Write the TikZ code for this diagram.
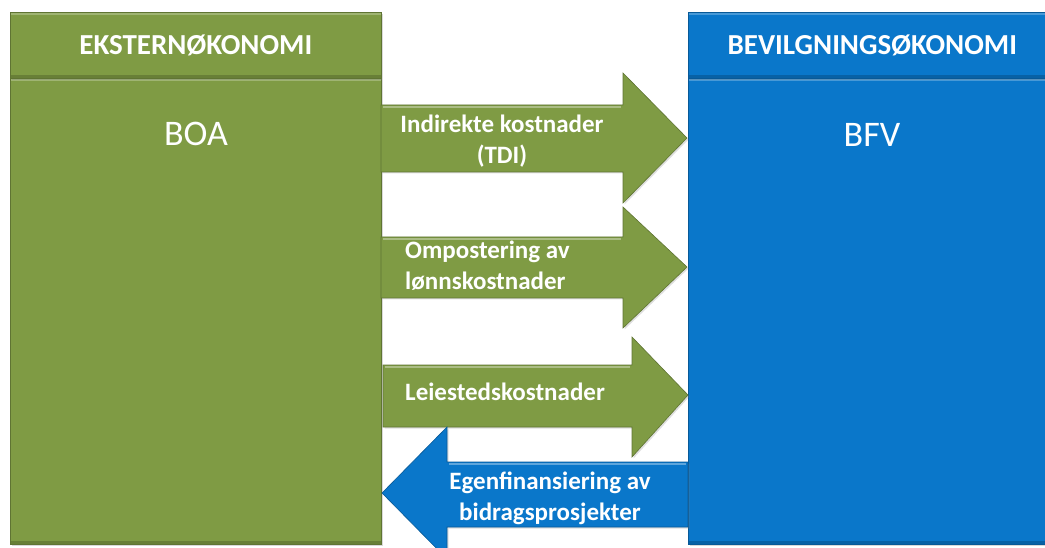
\documentclass[tikz,border=0pt]{standalone}
\usepackage{fontspec}
\setmainfont{Carlito}
\usetikzlibrary{shadows}
\definecolor{boagreen}{HTML}{7F9B44}
\definecolor{bfvblue}{HTML}{0A77CA}
\begin{document}
\begin{tikzpicture}[x=1pt,y=-1pt,
  panel/.style={fill=#1, draw=#1!75!black, line width=0.6pt, inner sep=0pt,
    anchor=north west, text=white,
    drop shadow={opacity=0.3, shadow xshift=1.5pt, shadow yshift=-1.5pt},
    path picture={
      \fill[white, opacity=0.25] (path picture bounding box.north west)
        rectangle ([yshift=-3pt]path picture bounding box.north east);
      \fill[black, opacity=0.18] (path picture bounding box.south west)
        rectangle ([yshift=3pt]path picture bounding box.south east);
    }},
  headtext/.style={font=\bfseries\fontsize{29}{32}\selectfont},
  bodytext/.style={font=\fontsize{36}{40}\selectfont, text=white},
  flow/.style={fill=#1, draw=#1!75!black, line width=0.6pt,
    drop shadow={opacity=0.25, shadow xshift=1.5pt, shadow yshift=-1.5pt}},
  shine/.style={draw=white, opacity=0.35, line width=2pt},
  flowtext/.style={text=white, align=center, inner sep=0pt,
    font=\bfseries\fontsize{25}{31}\selectfont}
]
\useasboundingbox (0,0) rectangle (1045,548);
\clip (0,0) rectangle (1045,548);

% left column: external economy
\node[panel=boagreen, minimum width=371pt, minimum height=466pt] (boa) at (10,78) {};
\node[panel=boagreen, minimum width=371pt, minimum height=66pt, headtext] (exthead) at (10,12) {EKSTERNØKONOMI};
\node[bodytext] (boalabel) at (196,134) {BOA};

% right column: appropriation economy
\node[panel=bfvblue, minimum width=368pt, minimum height=466pt] (bfv) at (688,78) {};
\node[panel=bfvblue, minimum width=368pt, minimum height=66pt, headtext] (bevhead) at (688,12) {BEVILGNINGSØKONOMI};
\node[bodytext] (bfvlabel) at (872,135) {BFV};

% flows from BOA to BFV
\path[flow=boagreen] (381,105) -- (623,105) -- (623,73) -- (687,138) -- (623,203) -- (623,172) -- (381,172) -- cycle;
\draw[shine] (383,107) -- (621,107);
\node[flowtext] (tdi) at (502,141) {Indirekte kostnader\\(TDI)};

\path[flow=boagreen] (381,237) -- (623,237) -- (623,207) -- (687,267) -- (623,328) -- (623,298) -- (381,298) -- cycle;
\draw[shine] (383,239) -- (621,239);
\node[flowtext, align=left, anchor=west] (lonn) at (405,266) {Ompostering av\\lønnskostnader};

\path[flow=boagreen] (383,365) -- (632,365) -- (632,337) -- (688,395) -- (632,457) -- (632,427) -- (383,427) -- cycle;
\draw[shine] (385,367) -- (630,367);
\node[flowtext] (leie) at (505,392) {Leiestedskostnader};

% flow from BFV back to BOA
\path[flow=bfvblue] (688,462) -- (447,462) -- (447,427) -- (382,493) -- (447,559) -- (447,527) -- (688,527) -- cycle;
\draw[shine] (449,464) -- (686,464);
\node[flowtext] (egen) at (550,498) {Egenfinansiering av\\bidragsprosjekter};
\end{tikzpicture}
\end{document}
